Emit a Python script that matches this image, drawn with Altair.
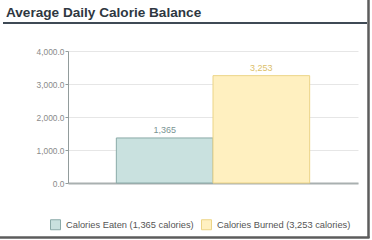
import altair as alt
import pandas as pd

TITLE = "Average Daily Calorie Balance"
categories = ["Calories Eaten", "Calories Burned"]
values = [1365, 3253]
value_labels = ["1,365", "3,253"]
legend_labels = ["Calories Eaten (1,365 calories)", "Calories Burned (3,253 calories)"]
y_ticks = [0, 1000, 2000, 3000, 4000]

fill_colors = ["#c9e1df", "#fff0c0"]
stroke_colors = ["#8aaaa8", "#ecd486"]
label_colors = ["#7a9594", "#dcc06a"]

df = pd.DataFrame({"category": categories, "value": values,
                   "vlabel": value_labels, "legend": legend_labels})

FONT = "Liberation Sans"

x_enc = alt.X("category:N", sort=categories,
              scale=alt.Scale(paddingInner=0, paddingOuter=0.5),
              axis=alt.Axis(labels=False, ticks=False, title=None, grid=False,
                            domainColor="#a9b0b0", domainWidth=2))
y_enc = alt.Y("value:Q", scale=alt.Scale(domain=[0, 4000], nice=False),
              axis=alt.Axis(values=y_ticks, format=",.1f", title=None, grid=True,
                            gridColor="#e6e6e6", domainColor="#929c9c",
                            tickColor="#929c9c", tickSize=3, labelPadding=1,
                            labelOverlap=False,
                            labelFont=FONT, labelFontSize=8.4, labelColor="#8a8a8a"))

base = alt.Chart(df).encode(x=x_enc, y=y_enc)

bars = base.mark_bar(strokeWidth=1).encode(
    fill=alt.Fill("legend:N", scale=alt.Scale(domain=legend_labels, range=fill_colors),
                  legend=alt.Legend(title=None, orient="none", legendX=-18, legendY=168,
                                    direction="horizontal", symbolType="square",
                                    symbolSize=100, symbolStrokeWidth=1,
                                    labelFont=FONT, labelFontSize=9.3, labelColor="#555555",
                                    labelOffset=5, columnPadding=5, padding=0)),
    stroke=alt.Stroke("legend:N", scale=alt.Scale(domain=legend_labels, range=stroke_colors)),
)

texts = base.mark_text(baseline="alphabetic", dy=-5, font=FONT, fontSize=9).encode(
    text="vlabel:N",
    color=alt.Color("category:N", scale=alt.Scale(domain=categories, range=label_colors),
                    legend=None),
)

title_df = pd.DataFrame({"t": [TITLE]})
title = alt.Chart(title_df).mark_text(align="left", baseline="alphabetic", font=FONT,
                                      fontSize=13.6, fontWeight="bold", color="#2e3741").encode(
    x=alt.value(-62), y=alt.value(-34.5), text="t:N")

underline = alt.Chart(title_df).mark_rule(color="#3f4a55", strokeWidth=2).encode(
    x=alt.value(-65), x2=alt.value(299), y=alt.value(-28))

right_shadow = alt.Chart(title_df).mark_rule(color="#5c5c5c", strokeWidth=2.5).encode(
    x=alt.value(300.5), y=alt.value(-51), y2=alt.value(187))
bottom_shadow = alt.Chart(title_df).mark_rule(color="#5c5c5c", strokeWidth=2.5).encode(
    x=alt.value(-68), x2=alt.value(301.5), y=alt.value(186.5))

chart = alt.layer(bars, texts, title, underline, right_shadow, bottom_shadow).properties(
    width=290, height=132,
    autosize=alt.AutoSizeParams(type="none"),
    padding={"left": 68, "top": 51, "right": 14, "bottom": 57},
    background="white",
).resolve_scale(color="independent").configure_view(stroke=None)

chart.save("out.html", embed_options={"renderer": "svg", "actions": False})
